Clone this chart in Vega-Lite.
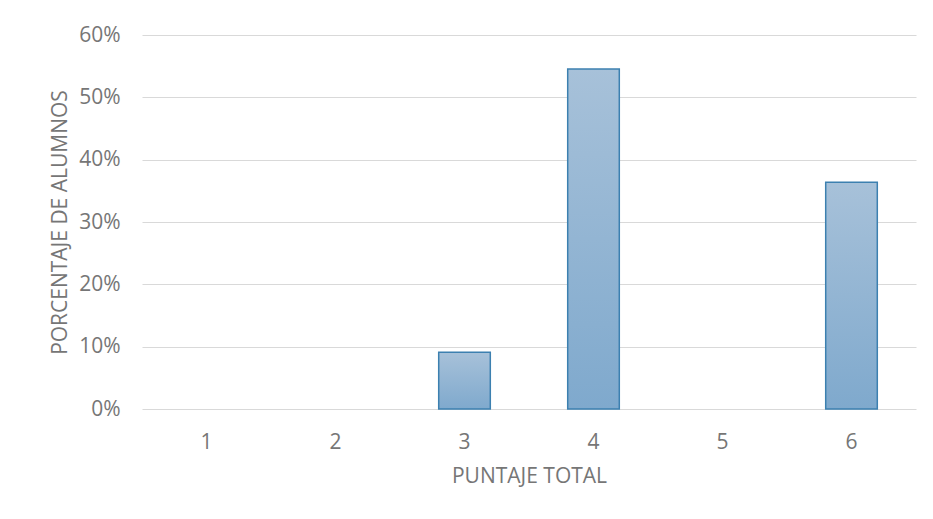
{
  "$schema": "https://vega.github.io/schema/vega-lite/v6.json",
  "width": 774,
  "height": 374,
  "autosize": {"type": "none"},
  "padding": {"left": 142, "top": 35, "right": 17, "bottom": 110},
  "background": "white",
  "config": {
    "view": {"stroke": null},
    "font": "Open Sans"
  },
  "data": {
    "values": [
      {"puntaje": "1", "pct": 0},
      {"puntaje": "2", "pct": 0},
      {"puntaje": "3", "pct": 0.0909},
      {"puntaje": "4", "pct": 0.5455},
      {"puntaje": "5", "pct": 0},
      {"puntaje": "6", "pct": 0.3636}
    ]
  },
  "mark": {
    "type": "bar",
    "stroke": "#3c80b0",
    "strokeWidth": 1.5,
    "color": {
      "gradient": "linear",
      "x1": 0, "y1": 0, "x2": 0, "y2": 1,
      "stops": [
        {"offset": 0, "color": "#a7c1d9"},
        {"offset": 1, "color": "#7fa9cd"}
      ]
    }
  },
  "encoding": {
    "x": {
      "field": "puntaje",
      "type": "ordinal",
      "scale": {"paddingInner": 0.6, "paddingOuter": 0.3},
      "axis": {
        "title": "PUNTAJE TOTAL",
        "titleFont": "Open Sans",
        "titleFontSize": 21,
        "titleFontWeight": "normal",
        "titleColor": "#767676",
        "titlePadding": 13,
        "labelAngle": 0,
        "labelFont": "Open Sans",
        "labelFontSize": 21,
        "labelColor": "#767676",
        "labelPadding": 22,
        "domain": false,
        "ticks": false
      }
    },
    "y": {
      "field": "pct",
      "type": "quantitative",
      "scale": {"domain": [0, 0.6], "nice": false},
      "axis": {
        "title": "PORCENTAJE DE ALUMNOS",
        "titleFont": "Open Sans",
        "titleFontSize": 21,
        "titleFontWeight": "normal",
        "titleColor": "#767676",
        "titlePadding": 8,
        "values": [0, 0.1, 0.2, 0.3, 0.4, 0.5, 0.6],
        "format": ".0%",
        "labelFont": "Open Sans",
        "labelFontSize": 21,
        "labelColor": "#767676",
        "labelPadding": 22,
        "domain": false,
        "ticks": false,
        "grid": true,
        "gridColor": "#d9d9d9",
        "gridWidth": 1
      }
    },
    "strokeOpacity": {
      "condition": {"test": "datum.pct > 0", "value": 1},
      "value": 0
    }
  }
}
